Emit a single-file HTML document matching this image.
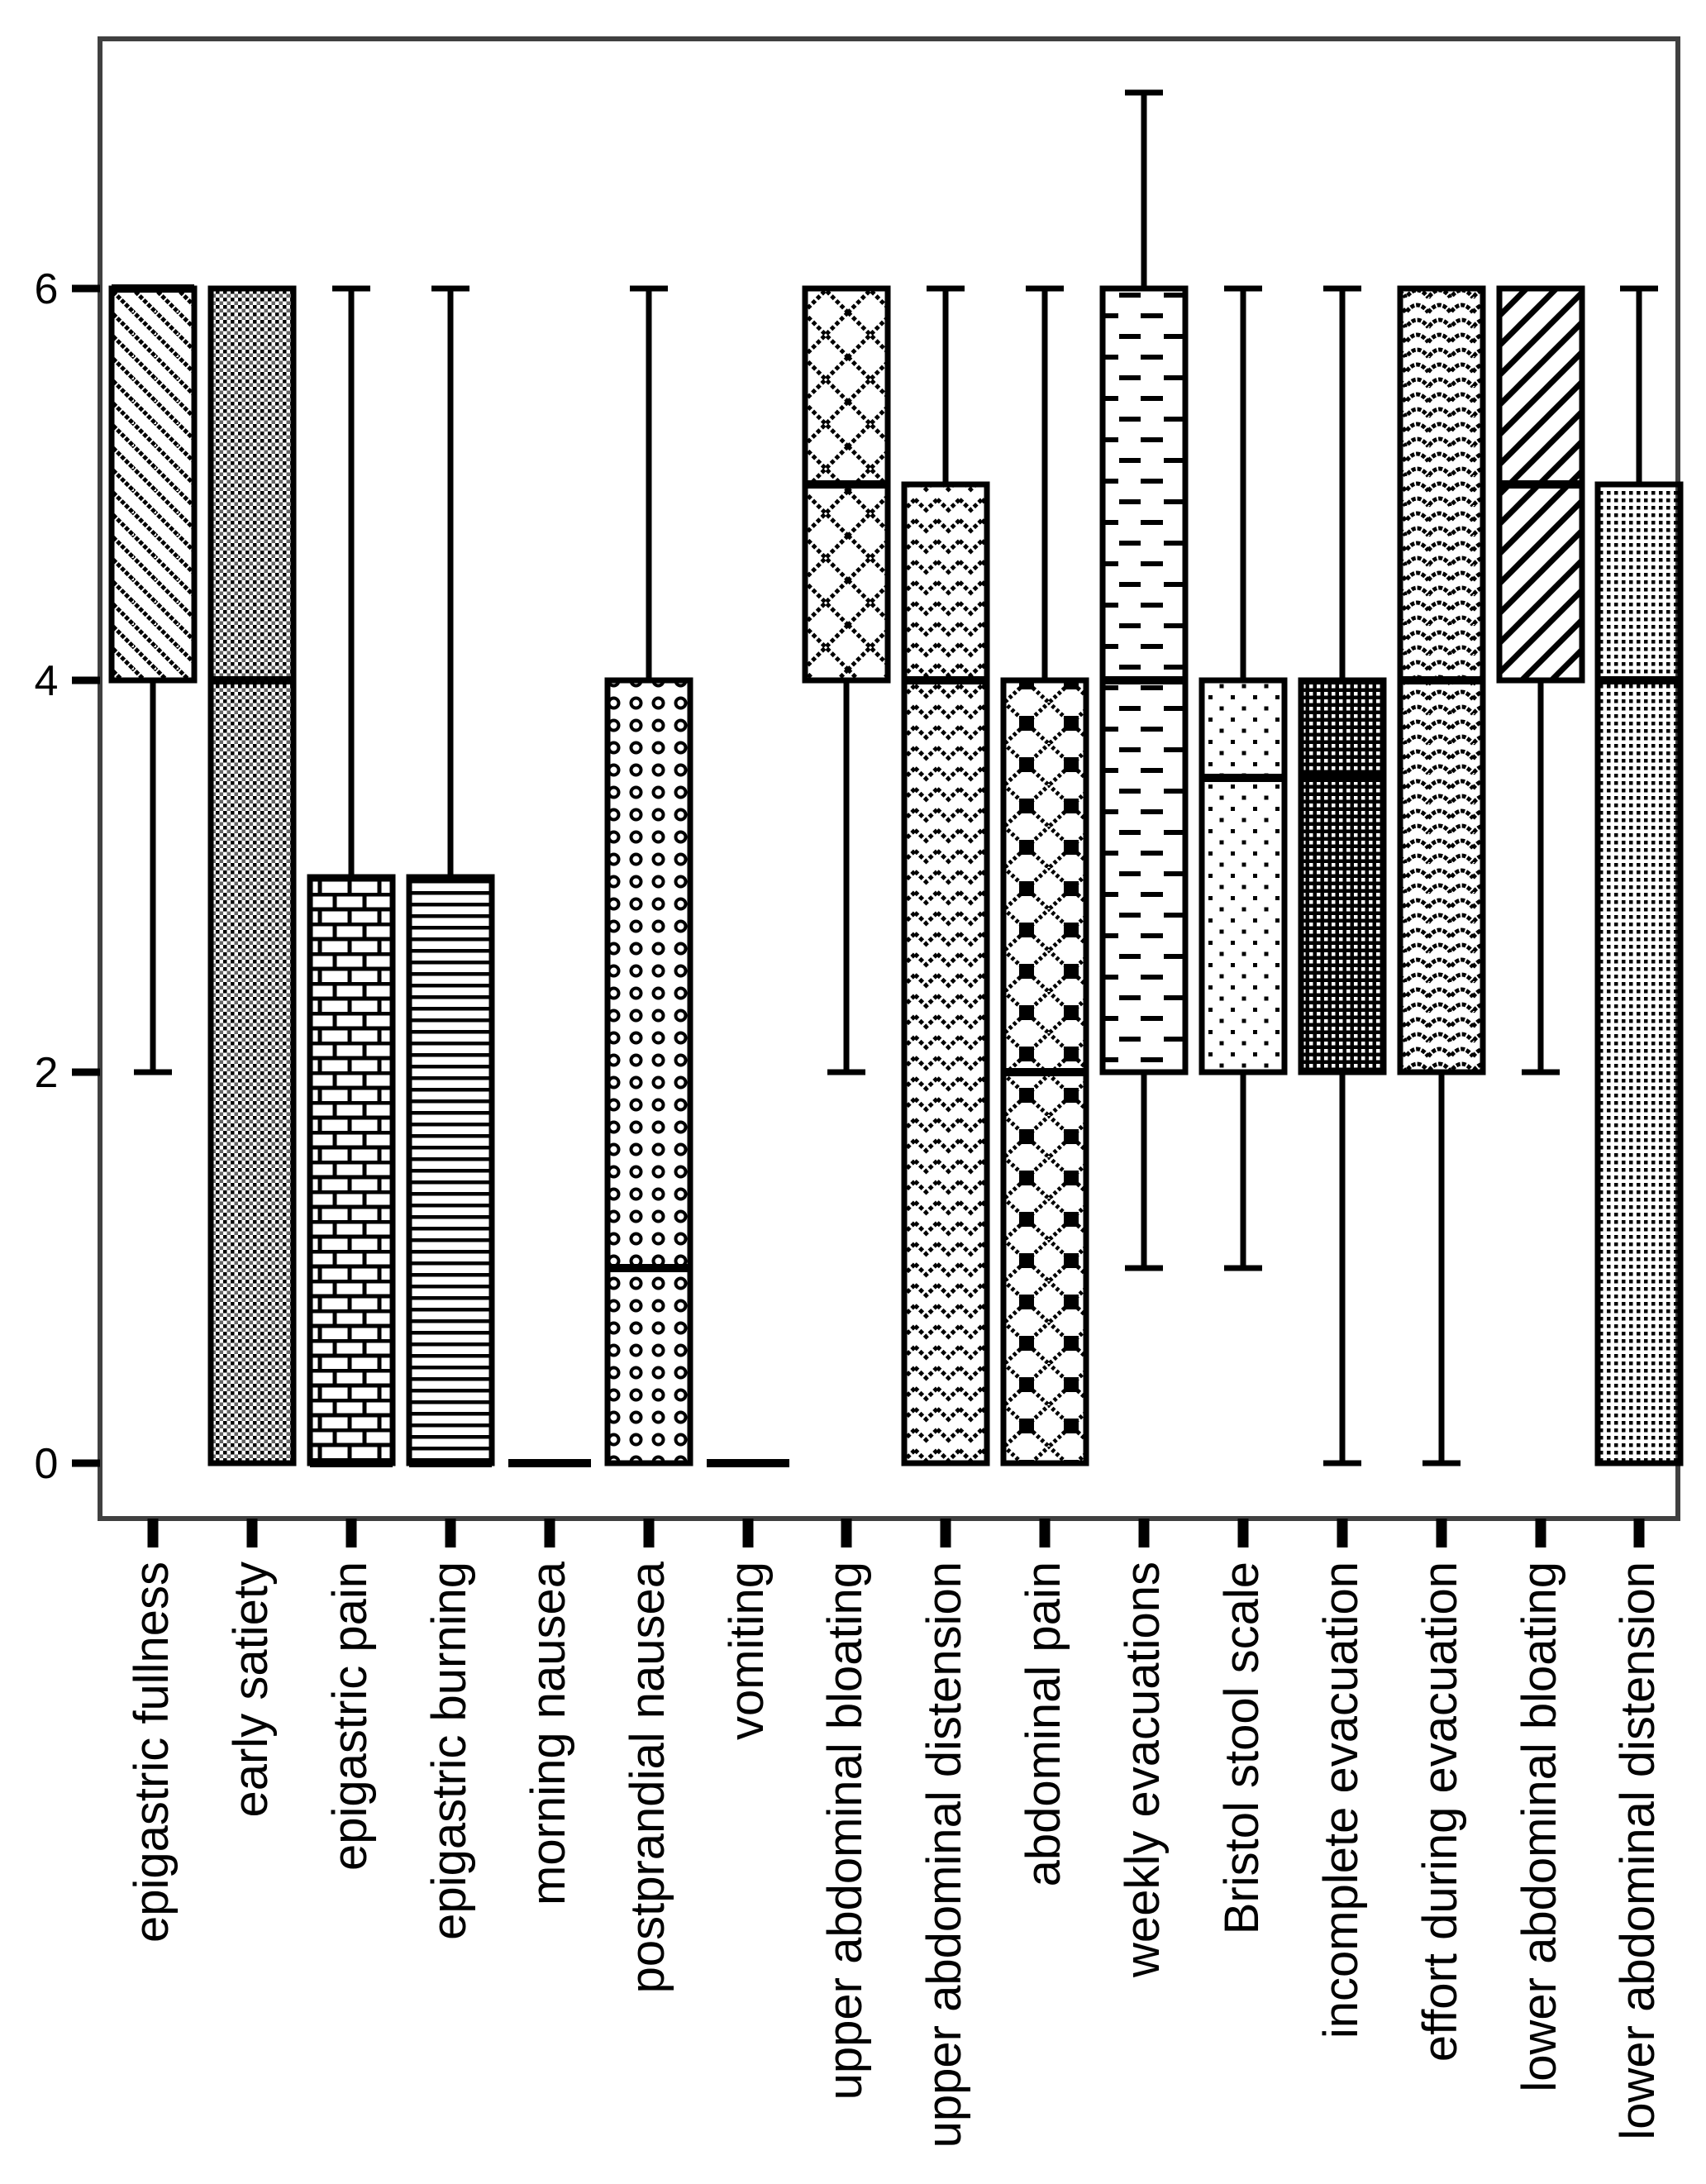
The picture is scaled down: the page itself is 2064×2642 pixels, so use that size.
<!DOCTYPE html>
<html><head><meta charset="utf-8"><style>html,body{margin:0;padding:0;background:#fff}svg{display:block}</style></head>
<body>
<svg width="2064" height="2642" viewBox="0 0 2064 2642" xmlns="http://www.w3.org/2000/svg">
<defs>
<pattern id="p0" width="27" height="27" patternUnits="userSpaceOnUse"><path d="M-3,-3 L30,30 M-3,24 L3,30 M24,-3 L30,3" stroke="#000" stroke-width="5" stroke-dasharray="5 2"/></pattern>
<pattern id="p1" width="9" height="9" patternUnits="userSpaceOnUse"><rect width="9" height="9" fill="#fff"/><rect x="0" y="0" width="4.5" height="4.5" fill="#000"/><rect x="4.5" y="4.5" width="4.5" height="4.5" fill="#000" opacity="0.6"/></pattern>
<pattern id="p2" width="36" height="36" patternUnits="userSpaceOnUse"><path d="M0,2 H36 M0,20 H36 M9,2 V20 M27,20 V38" stroke="#000" stroke-width="5"/></pattern>
<pattern id="p3" width="14" height="14" patternUnits="userSpaceOnUse"><path d="M0,2 H14" stroke="#000" stroke-width="5"/></pattern>
<pattern id="p5" width="27" height="27" patternUnits="userSpaceOnUse"><circle cx="13.5" cy="13.5" r="6" fill="none" stroke="#000" stroke-width="4"/></pattern>
<pattern id="p7" width="54" height="54" patternUnits="userSpaceOnUse"><path d="M0,0 L54,54 M54,0 L0,54 M-27,27 L27,81 M27,-27 L81,27" stroke="#000" stroke-width="5" stroke-dasharray="5 3" fill="none"/></pattern>
<pattern id="p8" width="27" height="25" patternUnits="userSpaceOnUse"><path d="M0,4 L13.5,17 L27,4" stroke="#000" stroke-width="5" fill="none" stroke-dasharray="5 3"/></pattern>
<pattern id="p9" width="54" height="50" patternUnits="userSpaceOnUse"><path d="M0,25 L27,0 L54,25 L27,50 Z" stroke="#000" stroke-width="5" fill="none" stroke-dasharray="4 3"/><rect x="-9" y="16" width="18" height="18" fill="#000"/><rect x="45" y="16" width="18" height="18" fill="#000"/></pattern>
<pattern id="p10" width="54" height="50" patternUnits="userSpaceOnUse"><path d="M4,7 H30 M30,32 H57 M-24,32 H3" stroke="#000" stroke-width="6"/></pattern>
<pattern id="p11" width="27" height="27" patternUnits="userSpaceOnUse"><rect x="4" y="4" width="5" height="5" fill="#000"/><rect x="17.5" y="17.5" width="5" height="5" fill="#000"/></pattern>
<pattern id="p12" width="9" height="9" patternUnits="userSpaceOnUse"><rect width="9" height="9" fill="#000"/><rect x="0" y="0" width="4.5" height="4.5" fill="#fff"/></pattern>
<pattern id="p13" width="54" height="36" patternUnits="userSpaceOnUse"><path d="M0,18 Q13.5,0 27,18 Q40.5,0 54,18 M-27,36 Q-13.5,18 0,36 Q13.5,18 27,36 Q40.5,18 54,36 M0,0 Q13.5,-18 27,0 Q40.5,-18 54,0" stroke="#000" stroke-width="5" fill="none" stroke-dasharray="5 2"/></pattern>
<pattern id="p14" width="36" height="36" patternUnits="userSpaceOnUse"><path d="M-4,40 L40,-4 M-4,4 L4,-4 M32,40 L40,32" stroke="#000" stroke-width="7"/></pattern>
<pattern id="p15" width="9" height="9" patternUnits="userSpaceOnUse"><rect x="0" y="0" width="4.5" height="4.5" fill="#000"/></pattern>
</defs>
<rect x="121" y="47" width="1909" height="1790" fill="none" stroke="#404040" stroke-width="6"/>
<g stroke="#000" stroke-width="9">
<path d="M87,349 H121 M87,823 H121 M87,1297 H121 M87,1770 H121"/>
</g>
<g font-family="Liberation Sans, sans-serif" font-size="52" text-anchor="middle" fill="#000">
<text x="56" y="367">6</text><text x="56" y="841">4</text><text x="56" y="1315">2</text><text x="56" y="1788">0</text>
</g>
<g stroke="#000" stroke-width="7" fill="none">
<path d="M185,823 V1297 M162,1297 H208"/>
<path d="M425,349 V1061 M402,349 H448"/>
<path d="M545,349 V1061 M522,349 H568"/>
<path d="M785,349 V823 M762,349 H808"/>
<path d="M1024,823 V1297 M1001,1297 H1047"/>
<path d="M1144,349 V586 M1121,349 H1167"/>
<path d="M1264,349 V823 M1241,349 H1287"/>
<path d="M1384,112 V349 M1361,112 H1407 M1384,1297 V1534 M1361,1534 H1407"/>
<path d="M1504,349 V823 M1481,349 H1527 M1504,1297 V1534 M1481,1534 H1527"/>
<path d="M1624,349 V823 M1601,349 H1647 M1624,1297 V1770 M1601,1770 H1647"/>
<path d="M1744,1297 V1770 M1721,1770 H1767"/>
<path d="M1864,823 V1297 M1841,1297 H1887"/>
<path d="M1983,349 V586 M1960,349 H2006"/>
</g>
<g stroke="#000" stroke-width="7">
<rect x="135" y="349" width="100" height="474" fill="url(#p0)"/>
<rect x="255" y="349" width="100" height="1421" fill="url(#p1)"/>
<rect x="375" y="1061" width="100" height="709" fill="url(#p2)"/>
<rect x="495" y="1061" width="100" height="709" fill="url(#p3)"/>
<rect x="735" y="823" width="100" height="947" fill="url(#p5)"/>
<rect x="974" y="349" width="100" height="474" fill="url(#p7)"/>
<rect x="1094" y="586" width="100" height="1184" fill="url(#p8)"/>
<rect x="1214" y="823" width="100" height="947" fill="url(#p9)"/>
<rect x="1334" y="349" width="100" height="948" fill="url(#p10)"/>
<rect x="1454" y="823" width="100" height="474" fill="url(#p11)"/>
<rect x="1574" y="823" width="100" height="474" fill="url(#p12)"/>
<rect x="1694" y="349" width="100" height="948" fill="url(#p13)"/>
<rect x="1814" y="349" width="100" height="474" fill="url(#p14)"/>
<rect x="1933" y="586" width="100" height="1184" fill="url(#p15)"/>
</g>
<g stroke="#000" stroke-width="10">
<path d="M135,349 H235 M255,823 H355 M375,1770 H475 M495,1770 H595 M615,1770 H715 M735,1534 H835 M855,1770 H955 M974,586 H1074 M1094,823 H1194 M1214,1297 H1314 M1334,823 H1434 M1454,941 H1554 M1574,941 H1674 M1694,823 H1794 M1814,586 H1914 M1933,823 H2033"/>
</g>
<g stroke="#000" stroke-width="13">
<path d="M185,1837 V1872 M305,1837 V1872 M425,1837 V1872 M545,1837 V1872 M665,1837 V1872 M785,1837 V1872 M905,1837 V1872 M1024,1837 V1872 M1144,1837 V1872 M1264,1837 V1872 M1384,1837 V1872 M1504,1837 V1872 M1624,1837 V1872 M1744,1837 V1872 M1864,1837 V1872 M1983,1837 V1872"/>
</g>
<g font-family="Liberation Sans Narrow, Liberation Sans, sans-serif" font-size="58" text-anchor="end" fill="#000">
<text transform="translate(203,1889) rotate(-90)">epigastric fullness</text>
<text transform="translate(323,1889) rotate(-90)">early satiety</text>
<text transform="translate(443,1889) rotate(-90)">epigastric pain</text>
<text transform="translate(563,1889) rotate(-90)">epigastric burning</text>
<text transform="translate(683,1889) rotate(-90)">morning nausea</text>
<text transform="translate(803,1889) rotate(-90)">postprandial nausea</text>
<text transform="translate(923,1889) rotate(-90)">vomiting</text>
<text transform="translate(1042,1889) rotate(-90)">upper abdominal bloating</text>
<text transform="translate(1162,1889) rotate(-90)">upper abdominal distension</text>
<text transform="translate(1282,1889) rotate(-90)">abdominal pain</text>
<text transform="translate(1402,1889) rotate(-90)">weekly evacuations</text>
<text transform="translate(1522,1889) rotate(-90)">Bristol stool scale</text>
<text transform="translate(1642,1889) rotate(-90)">incomplete evacuation</text>
<text transform="translate(1762,1889) rotate(-90)">effort during evacuation</text>
<text transform="translate(1882,1889) rotate(-90)">lower abdominal bloating</text>
<text transform="translate(2001,1889) rotate(-90)">lower abdominal distension</text>
</g>
</svg>
</body></html>
